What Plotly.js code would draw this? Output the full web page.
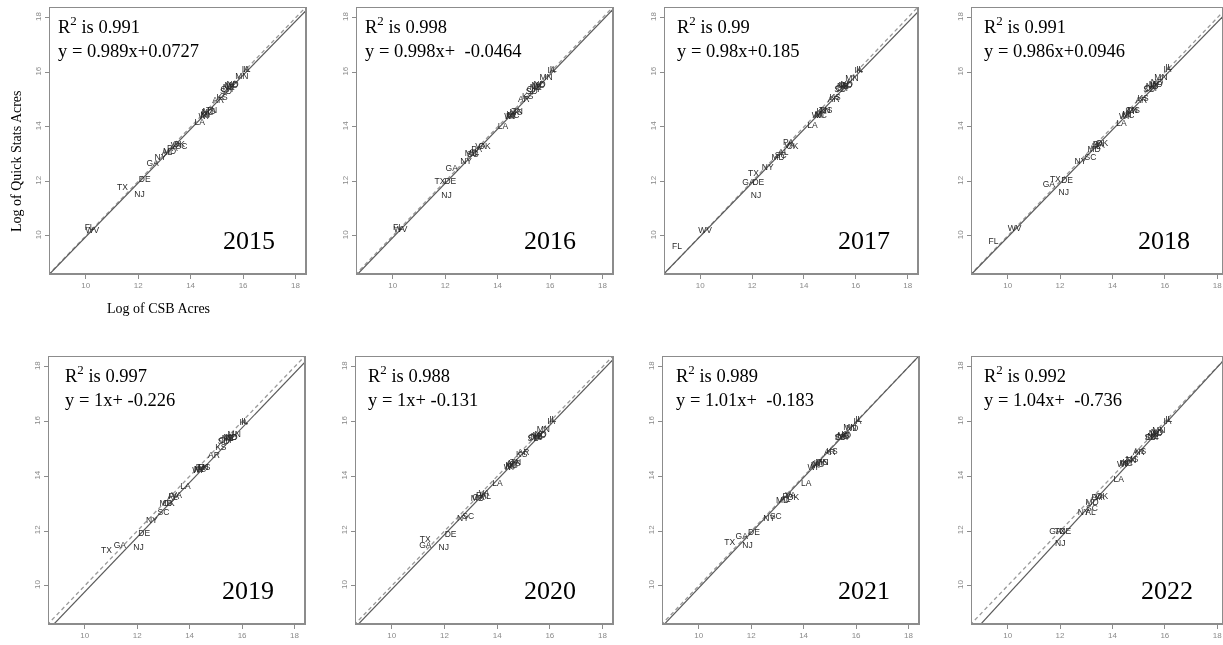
<!DOCTYPE html>
<html>
<head>
<meta charset="utf-8">
<script src="https://cdn.plot.ly/plotly-3.0.1.min.js"></script>
<style>
html,body{margin:0;padding:0;background:#fff;}
#chart{width:1223px;height:645px;will-change:transform;transform:translateZ(0);}
#chart svg text{-webkit-font-smoothing:antialiased;}
</style>
</head>
<body>
<div id="chart"></div>
<script>
// ---------------- DATA ----------------
const years = ['2015','2016','2017','2018','2019','2020','2021','2022'];
const r2Labels = ['0.991','0.998','0.99','0.991','0.997','0.988','0.989','0.992'];
const eqLabels = ['y = 0.989x+0.0727','y = 0.998x+  -0.0464','y = 0.98x+0.185','y = 0.986x+0.0946',
                  'y = 1x+ -0.226','y = 1x+ -0.131','y = 1.01x+  -0.183','y = 1.04x+  -0.736'];
const slopes = [0.989, 0.998, 0.98, 0.986, 1, 1, 1.01, 1.04];
const intercepts = [0.0727, -0.0464, 0.185, 0.0946, -0.226, -0.131, -0.183, -0.736];
const tickVals = [10, 12, 14, 16, 18];
const xTitle = 'Log of CSB Acres';
const yTitle = 'Log of Quick Stats Acres';

const states = ['IL','IA','MN','ND','IN','MO','NE','OH','SD','KS','AR','MS','MI','WI','KY','TN','NC','LA',
                'MD','PA','VA','OK','AL','SC','NY','GA','DE','TX','NJ','FL','WV'];

const csb2015 = [16.15,16.1,15.95,15.6,15.5,15.55,15.45,15.38,15.35,15.2,15.05,14.7,14.55,14.5,14.6,14.8,14.65,14.35,
                 13.2,13.3,13.45,13.55,13.1,13.65,12.85,12.55,12.25,11.4,12.05,10.15,10.25];
const qs2015  = [16.1,16.08,15.85,15.55,15.45,15.5,15.42,15.35,15.3,15.05,14.95,14.55,14.4,14.38,14.45,14.6,14.5,14.15,
                 13.1,13.2,13.3,13.35,13.05,13.25,12.85,12.65,12.05,11.75,11.52,10.3,10.2];

const csb2016 = [16.12,16.05,15.85,15.6,15.5,15.55,15.45,15.35,15.3,15.15,15.0,14.7,14.5,14.45,14.55,14.75,14.6,14.2,
                 13.0,13.2,13.35,13.5,13.1,13.05,12.8,12.25,12.2,11.8,12.05,10.2,10.3];
const qs2016  = [16.1,16.05,15.8,15.55,15.48,15.52,15.42,15.35,15.3,15.1,15.0,14.5,14.38,14.35,14.45,14.55,14.4,14.0,
                 13.0,13.15,13.28,13.25,13.05,12.98,12.7,12.45,12.0,12.0,11.47,10.28,10.22];

const csb2017 = [16.15,16.1,15.85,15.65,15.55,15.6,15.5,15.45,15.4,15.2,15.15,14.85,14.6,14.5,14.7,14.8,14.65,14.33,
                 13.0,13.4,13.45,13.55,13.2,13.1,12.6,11.86,12.24,12.05,12.15,9.1,10.19];
const qs2017  = [16.1,16.05,15.75,15.55,15.5,15.52,15.45,15.4,15.35,15.05,15.0,14.6,14.45,14.42,14.55,14.58,14.4,14.04,
                 12.85,13.4,13.3,13.25,13.05,12.95,12.5,11.95,11.95,12.26,11.46,9.6,10.2];

const csb2018 = [16.15,16.1,15.85,15.7,15.6,15.65,15.5,15.45,15.4,15.17,15.1,14.8,14.55,14.45,14.7,14.75,14.6,14.34,
                 13.3,13.45,13.5,13.6,13.35,13.16,12.78,11.57,12.27,11.82,12.14,9.46,10.27];
const qs2018  = [16.15,16.1,15.8,15.6,15.5,15.55,15.45,15.4,15.35,15.03,14.95,14.6,14.45,14.35,14.55,14.58,14.4,14.1,
                 13.15,13.35,13.3,13.38,13.25,12.87,12.7,11.89,12.01,12.05,11.58,9.78,10.27];

const csb2019 = [16.1,16.05,15.7,15.6,15.5,15.55,15.45,15.35,15.3,15.19,14.93,14.55,14.35,14.3,14.45,14.5,14.4,13.84,
                 13.1,13.4,13.5,13.2,13.35,13.0,12.56,11.34,12.27,10.83,12.05,null,null];
const qs2019  = [16.0,15.95,15.5,15.42,15.35,15.4,15.35,15.3,15.25,15.03,14.73,14.3,14.25,14.2,14.3,14.32,14.22,13.63,
                 13.0,13.25,13.3,13.0,13.2,12.68,12.39,11.46,11.88,11.27,11.4,null,null];

const csb2020 = [16.11,16.05,15.75,15.65,15.55,15.6,15.5,15.42,15.38,14.93,15.0,14.65,14.5,14.45,14.6,14.7,14.55,14.01,
                 13.25,13.4,13.5,13.3,13.57,12.9,12.7,11.27,12.23,11.27,11.97,null,null];
const qs2020  = [16.08,16.0,15.7,15.5,15.42,15.48,15.45,15.4,15.38,14.78,14.85,14.45,14.35,14.3,14.4,14.5,14.38,13.72,
                 13.16,13.3,13.35,13.2,13.25,12.5,12.45,11.46,11.87,11.68,11.38,null,null];

const csb2021 = [16.1,16.05,15.76,15.85,15.6,15.55,15.5,15.45,15.4,15.08,15.0,14.7,14.45,14.35,14.6,14.74,14.55,14.1,
                 13.2,13.4,13.5,13.6,13.3,12.94,12.69,11.64,12.11,11.18,11.86,null,null];
const qs2021  = [16.08,16.0,15.77,15.75,15.5,15.48,15.45,15.42,15.4,14.9,14.85,14.5,14.38,14.32,14.45,14.5,14.4,13.74,
                 13.1,13.25,13.3,13.2,13.15,12.5,12.45,11.77,11.92,11.58,11.46,null,null];

const csb2022 = [16.15,16.1,15.77,15.7,15.6,15.65,15.55,15.5,15.45,15.07,15.0,14.75,14.45,14.37,14.6,14.7,14.55,14.24,
                 13.22,13.4,13.5,13.6,13.16,13.22,12.9,11.82,12.2,12.0,12.01,null,null];
const qs2022  = [16.06,16.0,15.65,15.6,15.5,15.55,15.45,15.42,15.4,14.9,14.85,14.6,14.45,14.4,14.5,14.55,14.45,13.87,
                 13.04,13.2,13.22,13.25,12.68,12.8,12.68,11.96,11.96,11.96,11.53,null,null];

const csbByYear = [csb2015, csb2016, csb2017, csb2018, csb2019, csb2020, csb2021, csb2022];
const qsByYear  = [qs2015, qs2016, qs2017, qs2018, qs2019, qs2020, qs2021, qs2022];

// ---------------- LAYOUT GEOMETRY (pixels) ----------------
const W = 1223, H = 645;
const boxes = [ // [left, right, top, bottom]
  [50, 305, 8, 273], [357, 612, 8, 273], [665, 917, 8, 273], [972, 1222, 8, 273],
  [49, 304, 357, 623], [356, 612, 357, 623], [663, 918, 357, 623], [972, 1222, 357, 623]
];
const xRanges = [[8.64,18.36],[8.64,18.36],[8.64,18.36],[8.64,18.18],
                 [8.64,18.36],[8.64,18.36],[8.64,18.36],[8.64,18.18]];
const yRange = [8.64, 18.36];
const statX = [56, 363, 675, 982, 63, 366, 674, 982];
const yearX = [248.5, 550, 863.5, 1163.5, 247.5, 550, 864, 1167];

const px = v => v / W;
const py = v => 1 - v / H;
const nb = s => s.replace(/ /g, '\u00A0');

const serif = 'Liberation Serif, Times New Roman, serif';
const sans = 'Liberation Sans, Arial, sans-serif';

const traces = [];
const layout = {
  width: W, height: H,
  margin: {l: 0, r: 0, t: 0, b: 0},
  paper_bgcolor: '#fff', plot_bgcolor: '#fff',
  showlegend: false, hovermode: false,
  annotations: []
};

years.forEach((yr, i) => {
  const n = i + 1;
  const xa = 'x' + (n === 1 ? '' : n), ya = 'y' + (n === 1 ? '' : n);
  const xk = 'xaxis' + (n === 1 ? '' : n), yk = 'yaxis' + (n === 1 ? '' : n);
  const b = boxes[i];
  const xr = xRanges[i];

  // 1:1 reference line (dashed)
  traces.push({x: [xr[0] - 1, xr[1] + 1], y: [xr[0] - 1, xr[1] + 1], xaxis: xa, yaxis: ya,
    mode: 'lines', line: {color: '#9a9a9a', width: 1.3, dash: '4px,3px'}});
  // fitted line (solid)
  const fx = [xr[0] - 1, xr[1] + 1];
  traces.push({x: fx, y: fx.map(v => slopes[i] * v + intercepts[i]), xaxis: xa, yaxis: ya,
    mode: 'lines', line: {color: '#5a5a5a', width: 1.2}});
  // state labels (only states present that year)
  const keep = states.map((s, k) => csbByYear[i][k] !== null && qsByYear[i][k] !== null);
  traces.push({
    x: csbByYear[i].filter((v, k) => keep[k]),
    y: qsByYear[i].filter((v, k) => keep[k]),
    text: states.filter((v, k) => keep[k]),
    xaxis: xa, yaxis: ya,
    mode: 'text', textposition: 'middle center', cliponaxis: true,
    textfont: {family: sans, size: 8.5, color: '#2a2a2a'}});

  const axisCommon = {
    showgrid: false, zeroline: false, showline: true, mirror: true,
    linecolor: '#8c8c8c', linewidth: 1.5,
    ticks: 'outside', ticklen: 4, tickwidth: 1, tickcolor: '#8c8c8c',
    tickvals: tickVals, ticktext: tickVals.map(String),
    tickfont: {family: sans, size: 8, color: '#8a8a8a'},
    fixedrange: true
  };
  layout[xk] = Object.assign({}, axisCommon, {
    domain: [px(b[0]), px(b[1])], range: xr, anchor: ya
  });
  layout[yk] = Object.assign({}, axisCommon, {
    domain: [py(b[3]), py(b[2])], range: yRange, anchor: xa, tickangle: -90
  });

  // statistics text
  const top = b[2];
  layout.annotations.push({xref: 'paper', yref: 'paper', x: px(statX[i]), y: py(top + 17),
    xanchor: 'left', yanchor: 'middle', showarrow: false,
    text: 'R<sup>2</sup>' + nb(' is ' + r2Labels[i]), font: {family: serif, size: 18.5, color: '#000'}});
  layout.annotations.push({xref: 'paper', yref: 'paper', x: px(statX[i]), y: py(top + 43),
    xanchor: 'left', yanchor: 'middle', showarrow: false,
    text: nb(eqLabels[i]), font: {family: serif, size: 18.5, color: '#000'}});
  // year label
  layout.annotations.push({xref: 'paper', yref: 'paper', x: px(yearX[i]), y: py(b[3] - 33),
    xanchor: 'center', yanchor: 'middle', showarrow: false,
    text: yr, font: {family: serif, size: 26, color: '#000'}});
});

// axis titles (first panel only)
layout.annotations.push({xref: 'paper', yref: 'paper', x: px(17), y: py(161),
  xanchor: 'center', yanchor: 'middle', showarrow: false, textangle: -90,
  text: yTitle, font: {family: serif, size: 14, color: '#000'}});
layout.annotations.push({xref: 'paper', yref: 'paper', x: px(158), y: py(308),
  xanchor: 'center', yanchor: 'middle', showarrow: false,
  text: xTitle, font: {family: serif, size: 14, color: '#000'}});

Plotly.newPlot('chart', traces, layout, {staticPlot: true, displayModeBar: false});
</script>
</body>
</html>
